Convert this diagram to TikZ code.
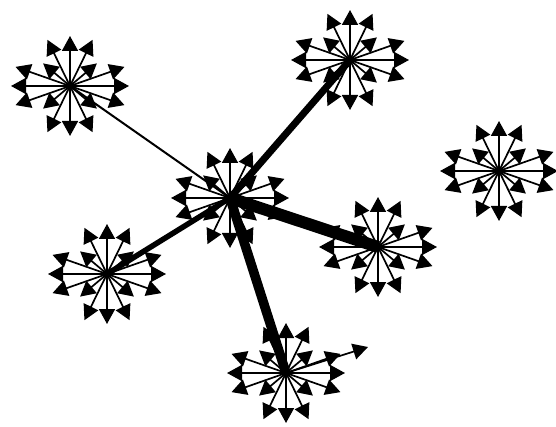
\documentclass[tikz,border=0pt]{standalone}
\usetikzlibrary{arrows.meta}
\tikzset{
  spoke/.style={line width=1.7pt,-{Triangle[length=15pt,width=16pt]}},
  edge/.style={line cap=butt},
}
\newcommand\burst[3]{%
  \coordinate (#1) at (#2,#3);
  \foreach \a in {0,22.5,67.5,90,112.5,157.5,180,202.5,247.5,270,292.5,337.5}{
    \draw[spoke] (#1) -- ++({59*cos(\a)},{50*sin(\a)});
  }
  \foreach \a in {45,135,225,315}{
    \draw[spoke] (#1) -- ++({38*cos(\a)},{32*sin(\a)});
  }
}
\begin{document}
\begin{tikzpicture}[x=1pt,y=-1pt]
\useasboundingbox (0,0) rectangle (556,427);
\burst{S1}{70}{86}
\burst{S2}{350}{60}
\burst{S3}{499}{171}
\burst{C}{230}{198}
\burst{S5}{378}{247}
\burst{S6}{107}{274}
\burst{S7}{286}{373}
\coordinate (T7) at (368,347);
\draw[spoke] (S7) -- (T7);
\draw[edge,line width=2pt] (S1) -- (C);
\draw[edge,line width=7pt] (C) -- (S2);
\draw[edge,line width=12pt] (C) -- (S5);
\draw[edge,line width=5.5pt] (C) -- (S6);
\draw[edge,line width=9.5pt] (C) -- (S7);
\end{tikzpicture}
\end{document}
